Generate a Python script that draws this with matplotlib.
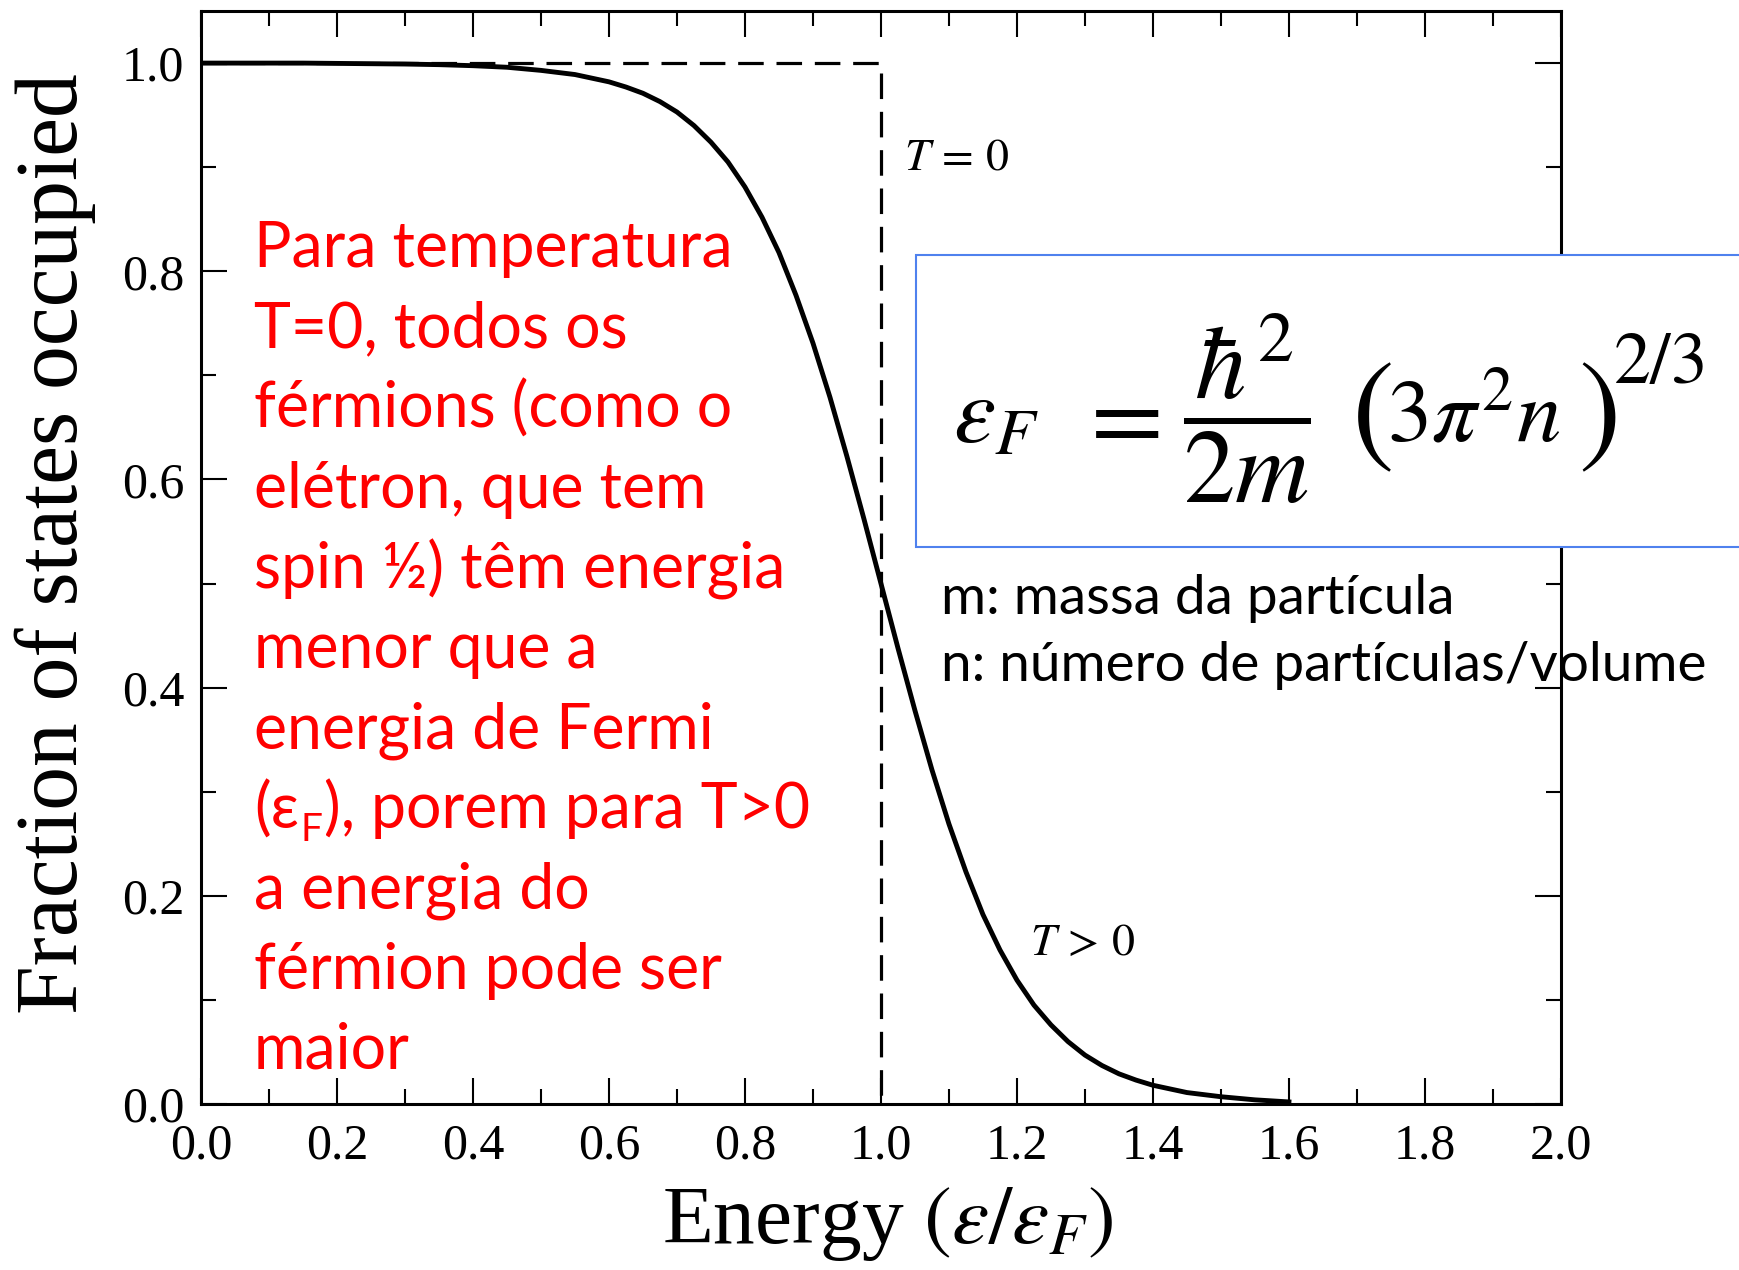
import matplotlib
matplotlib.use('Agg')
import matplotlib.pyplot as plt
from matplotlib.patches import Rectangle
from matplotlib.ticker import AutoMinorLocator

plt.rcParams['mathtext.fontset'] = 'stix'
plt.rcParams['font.family'] = ['Liberation Serif', 'DejaVu Serif']

# Fermi-Dirac occupation at finite temperature
energy = [0.00, 0.05, 0.10, 0.15, 0.20, 0.25, 0.30, 0.35, 0.40, 0.45,
          0.50, 0.55, 0.60, 0.625, 0.65, 0.675, 0.70, 0.725, 0.75, 0.775,
          0.80, 0.825, 0.85, 0.875, 0.90, 0.925, 0.95, 0.975, 1.00, 1.025,
          1.05, 1.075, 1.10, 1.125, 1.15, 1.175, 1.20, 1.225, 1.25, 1.275,
          1.30, 1.325, 1.35, 1.375, 1.40, 1.45, 1.50, 1.55, 1.60]
occupied = [1.000, 1.000, 1.000, 1.000, 0.9997, 0.9994, 0.9991, 0.9985, 0.9975, 0.996,
            0.993, 0.989, 0.982, 0.977, 0.971, 0.963, 0.953, 0.940, 0.924, 0.905,
            0.881, 0.852, 0.818, 0.777, 0.731, 0.679, 0.622, 0.562, 0.500, 0.438,
            0.378, 0.321, 0.269, 0.223, 0.182, 0.148, 0.119, 0.095, 0.076, 0.060,
            0.047, 0.037, 0.029, 0.023, 0.018, 0.011, 0.007, 0.004, 0.002]

# T = 0 step function
step_energy = [0.0, 1.0, 1.0]
step_occupied = [1.0, 1.0, 0.0]

x_ticks = [0.0, 0.2, 0.4, 0.6, 0.8, 1.0, 1.2, 1.4, 1.6, 1.8, 2.0]
y_ticks = [0.0, 0.2, 0.4, 0.6, 0.8, 1.0]

note_lines = ['Para temperatura',
              'T=0, todos os',
              'férmions (como o',
              'elétron, que tem',
              'spin ½) têm energia',
              'menor que a',
              'energia de Fermi',
              None,
              'a energia do',
              'férmion pode ser',
              'maior']
note_eps = ['(ε', 'F', '), porem para T>0']

symbol_lines = ['m: massa da partícula',
                'n: número de partículas/volume']

W, H = 1740, 1270


def fx(px):
    return px / W


def fy(py):
    return 1 - py / H


fig = plt.figure(figsize=(17.4, 12.7), dpi=100)
ax = fig.add_axes([0.1155, 0.1307, 0.7816, 0.8606])

ax.plot(step_energy, step_occupied, color='black', lw=2.3, ls=(0, (8, 4)), zorder=2)
ax.plot(energy, occupied, color='black', lw=3.5, zorder=3)

ax.set_xlim(0, 2)
ax.set_ylim(0, 1.05)
ax.set_xticks(x_ticks)
ax.set_xticklabels(['%.1f' % v for v in x_ticks])
ax.set_yticks(y_ticks)
ax.set_yticklabels(['%.1f' % v for v in y_ticks])
ax.xaxis.set_minor_locator(AutoMinorLocator(2))
ax.yaxis.set_minor_locator(AutoMinorLocator(2))
ax.tick_params(which='both', direction='in', top=True, right=True, width=1.5)
ax.tick_params(which='major', length=19, labelsize=36)
ax.tick_params(axis='x', which='major', pad=14)
ax.tick_params(axis='y', which='major', pad=12)
ax.tick_params(which='minor', length=10.5)
for s in ax.spines.values():
    s.set_linewidth(2.2)

ax.text(1.034, 0.898, r'$T\,=\,0$', fontsize=33, va='baseline')
ax.text(1.219, 0.143, r'$T\,>\,0$', fontsize=33, va='baseline')

fig.text(0.0318, 0.5717, 'Fraction of states occupied', fontsize=63,
         rotation=90, ha='center', va='center')
fig.text(0.5103, 0.0213, r'Energy $\left(\varepsilon/\varepsilon_F\right)$',
         fontsize=60, ha='center', va='baseline')

# red explanatory note
sans = ['Lato', 'DejaVu Sans']
red = '#ff0000'
nx, ny, dy = 0.146, 0.7894, 0.0631
for i, line in enumerate(note_lines):
    y = ny - i * dy
    if line is not None:
        fig.text(nx, y, line, fontsize=45, color=red, family=sans, va='baseline')
        continue
    t1 = fig.text(nx, y, note_eps[0], fontsize=45, color=red, family=sans, va='baseline')
    sub = ax.annotate(note_eps[1], xy=(1, y), xycoords=(t1, 'figure fraction'),
                      xytext=(1, -9), textcoords='offset points',
                      fontsize=28, color=red, family=sans, va='baseline')
    ax.annotate(note_eps[2], xy=(1, y), xycoords=(sub, 'figure fraction'),
                xytext=(1, 0), textcoords='offset points',
                fontsize=45, color=red, family=sans, va='baseline')

# formula box
fig.patches.append(Rectangle((fx(916), fy(547)), 0.5, (547 - 255) / H,
                             transform=fig.transFigure, facecolor='white',
                             edgecolor='#4f81ee', lw=1.5, zorder=2))
fig.text(fx(953), fy(442), r'$\varepsilon_F$', fontsize=68, va='baseline', zorder=3)
fig.text(fx(1117), fy(424), r'$=$', fontsize=76, ha='center', va='center', zorder=3)
fig.text(fx(1247), fy(408), r'$\dfrac{\hbar^2}{2m}$', fontsize=74,
         ha='center', va='center', zorder=3)
fig.text(fx(1371), fy(419), r'$($', fontsize=92, ha='center', va='center', zorder=3)
fig.text(fx(1387), fy(442), r'$3\pi^2 n$', fontsize=64, va='baseline', zorder=3)
fig.text(fx(1597), fy(419), r'$)$', fontsize=92, ha='center', va='center', zorder=3)
fig.text(fx(1613), fy(383), r'$2/3$', fontsize=53, va='baseline', zorder=3)

for i, line in enumerate(symbol_lines):
    fig.text(fx(941), fy(614) - i * 0.0528, line, fontsize=39.5, family=sans,
             va='baseline', zorder=3)

fig.savefig('out.png', dpi=100)
